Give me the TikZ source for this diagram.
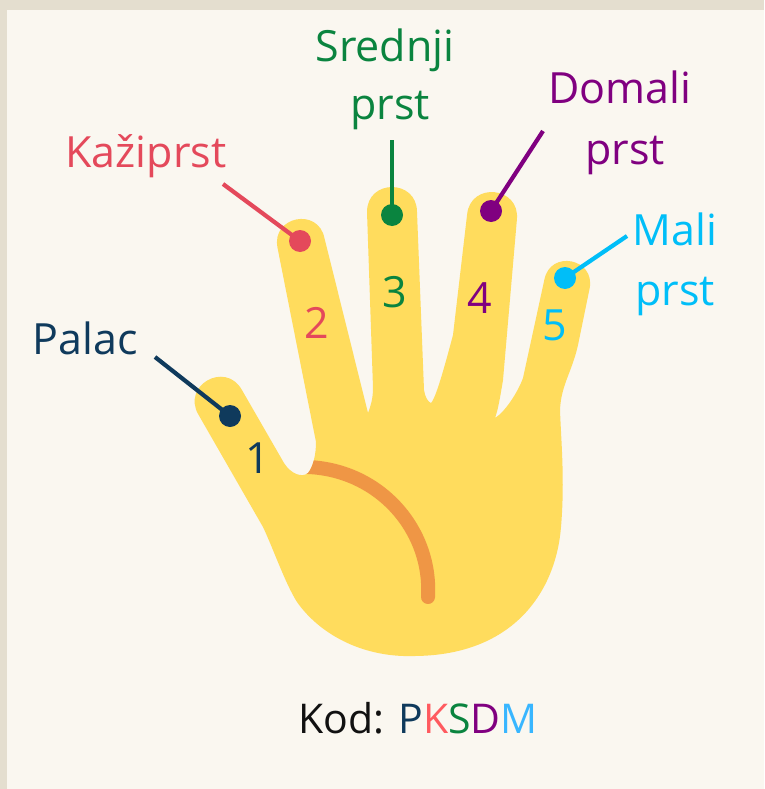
\documentclass[tikz,border=0pt]{standalone}
\usepackage{fontspec}
\setmainfont{Open Sans}
\definecolor{bgpaper}{HTML}{FAF7F0}
\definecolor{bgframe}{HTML}{E4DECF}
\definecolor{skin}{HTML}{FFDC5D}
\definecolor{crease}{HTML}{EF9645}
\definecolor{cPalac}{HTML}{0F3A5C}
\definecolor{cKaz}{HTML}{E4495B}
\definecolor{cKazKey}{HTML}{FF5A5F}
\definecolor{cSred}{HTML}{0A843F}
\definecolor{cDom}{HTML}{800080}
\definecolor{cMali}{HTML}{00BEF8}
\definecolor{cMaliKey}{HTML}{38B6FF}
\definecolor{cKod}{HTML}{111111}
\begin{document}
\begin{tikzpicture}[x=1pt,y=-1pt,line join=round,
  lbl/.style={font=\fontsize{43}{58}\selectfont, inner sep=0pt, anchor=base},
  num/.style={font=\fontsize{43}{58}\selectfont, inner sep=0pt},
  tipdot/.style={circle, inner sep=0pt, minimum size=22pt},
  leader/.style={line width=4.2pt}]
\useasboundingbox (0,0) rectangle (764,789);
\fill[bgframe] (0,0) rectangle (764,789);
\fill[bgpaper] (7,10) rectangle (764,789);

% hand: thumb, four fingers and palm as one outline
\fill[skin, save path=\handp]
  (263,527) -- (198.3,414.4)
  .. controls (181.7,385.5) and (225.1,360.7) .. (241.7,389.6)
  -- (284,463) .. controls (291,474) and (302,478) .. (308,473)
  % index finger
  .. controls (313,467) and (316,455) .. (316,442) -- (277.5,247.7)
  .. controls (271.3,216.3) and (318.3,206.9) .. (324.5,238.3)
  -- (368,413)
  % middle finger
  .. controls (371,405) and (373,398) .. (373,388) -- (367,212)
  .. controls (367,178.7) and (417,178.7) .. (417,212)
  -- (424,390) .. controls (425,397) and (428,402) .. (431,403)
  % ring finger
  .. controls (436,398) and (445,365) .. (453,335) -- (467.1,214.5)
  .. controls (470.4,181.4) and (520.2,186.4) .. (516.9,219.5)
  -- (503,380) .. controls (500,398) and (498,410) .. (495,418)
  % little finger
  .. controls (505,412) and (518,392) .. (523,378) -- (544.4,279.5)
  .. controls (550.4,249.4) and (595.6,258.4) .. (589.6,288.5)
  -- (578,345) .. controls (572,372) and (561,385) .. (560,410)
  % palm
  .. controls (561,440) and (565,480) .. (561,527)
  .. controls (556,590) and (515,655) .. (415,656)
  .. controls (360,658) and (318,632) .. (297,602)
  .. controls (285,583) and (273,548) .. cycle;

% palm crease
\begin{scope}
  \path[clip, use path=\handp];
  \draw[crease, line width=14pt, line cap=round]
    (308,467) .. controls (380,470) and (432,530) .. (428,597);
\end{scope}

% finger numbers
\node[num, text=cPalac] (n1) at (258,458) {1};
\node[num, text=cKaz]   (n2) at (317,323) {2};
\node[num, text=cSred]  (n3) at (395,292) {3};
\node[num, text=cDom]   (n4) at (480,298) {4};
\node[num, text=cMali]  (n5) at (555,325) {5};

% fingertip markers
\node[tipdot, fill=cPalac] (dP) at (230,416) {};
\node[tipdot, fill=cKaz]   (dK) at (300,241) {};
\node[tipdot, fill=cSred]  (dS) at (392,215) {};
\node[tipdot, fill=cDom]   (dD) at (491,211) {};
\node[tipdot, fill=cMali]  (dM) at (565,278) {};

% leader line ends
\coordinate (eP) at (155,357);
\coordinate (eK) at (223,184);
\coordinate (eS) at (392,140);
\coordinate (eD) at (543,131);
\coordinate (eM) at (627,236);
\draw[leader, cPalac] (eP) -- (dP.center);
\draw[leader, cKaz]   (eK) -- (dK.center);
\draw[leader, cSred]  (eS) -- (dS.center);
\draw[leader, cDom]   (eD) -- (dD.center);
\draw[leader, cMali]  (eM) -- (dM.center);

% finger names
\node[lbl, text=cPalac] (tP)  at (85,354)  {Palac};
\node[lbl, text=cKaz]   (tK)  at (146,167) {Kažiprst};
\node[lbl, text=cSred]  (tS1) at (385,62)  {Srednji};
\node[lbl, text=cSred]  (tS2) at (390,120) {prst};
\node[lbl, text=cDom]   (tD1) at (620,104) {Domali};
\node[lbl, text=cDom]   (tD2) at (625,164) {prst};
\node[lbl, text=cMali]  (tM1) at (675,245) {Mali};
\node[lbl, text=cMali]  (tM2) at (675,305) {prst};

% key line
\node[lbl, text=cKod, font=\fontsize{41}{56}\selectfont] (kod) at (418,733)
  {Kod: \textcolor{cPalac}{P}\textcolor{cKazKey}{K}\textcolor{cSred}{S}\textcolor{cDom}{D}\textcolor{cMaliKey}{M}};
\end{tikzpicture}
\end{document}
